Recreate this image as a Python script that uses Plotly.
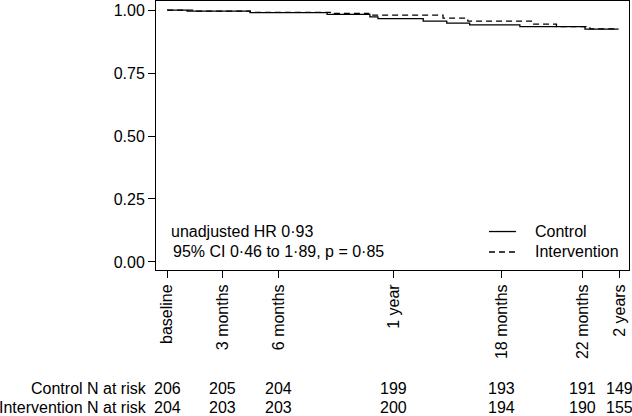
import plotly.graph_objects as go

# Kaplan-Meier step data (days since baseline, survival probability)
control_days = [0, 32, 134, 258, 327, 340, 413, 451, 488, 569, 674, 728]
control_surv = [1.000, 0.996, 0.990, 0.983, 0.973, 0.966, 0.956, 0.948, 0.941, 0.934, 0.924, 0.924]

interv_days = [0, 45, 134, 270, 325, 445, 485, 590, 628, 682, 728]
interv_surv = [1.000, 0.996, 0.991, 0.987, 0.980, 0.968, 0.956, 0.944, 0.934, 0.925, 0.925]

tick_days = [0, 90, 180, 365, 540, 670, 730]
tick_labels = ["baseline", "3 months", "6 months", "1 year", "18 months", "22 months", "2 years"]

y_ticks = [0.0, 0.25, 0.5, 0.75, 1.0]
y_tick_labels = ["0.00", "0.25", "0.50", "0.75", "1.00"]

control_at_risk = [206, 205, 204, 199, 193, 191, 149]
interv_at_risk = [204, 203, 203, 200, 194, 190, 155]

series_names = ["Control", "Intervention"]
series_dash = ["solid", "6px,4px"]

FONT = "Liberation Sans, Arial, sans-serif"
FS = 16
TXT = dict(size=FS, color="black", family=FONT)

fig = go.Figure()
fig.add_trace(go.Scatter(x=control_days, y=control_surv, mode="lines", line_shape="hv",
                         name=series_names[0], line=dict(color="black", width=1.3, dash=series_dash[0])))
fig.add_trace(go.Scatter(x=interv_days, y=interv_surv, mode="lines", line_shape="hv",
                         name=series_names[1], line=dict(color="black", width=1.3, dash=series_dash[1])))

annotations = [
    dict(text="unadjusted HR 0·93", x=0.028, y=0.143, xref="paper", yref="paper",
         xanchor="left", yanchor="middle", showarrow=False, font=TXT),
    dict(text="95% CI 0·46 to 1·89, p = 0·85", x=0.032, y=0.067, xref="paper", yref="paper",
         xanchor="left", yanchor="middle", showarrow=False, font=TXT),
    dict(text="Control N at risk", x=-0.014, y=-0.442, xref="paper", yref="paper",
         xanchor="right", yanchor="middle", showarrow=False, font=TXT),
    dict(text="Intervention N at risk", x=-0.014, y=-0.513, xref="paper", yref="paper",
         xanchor="right", yanchor="middle", showarrow=False, font=TXT),
]
for d, n in zip(tick_days, control_at_risk):
    annotations.append(dict(text=str(n), x=d, y=-0.442, xref="x", yref="paper", xanchor="center",
                            yanchor="middle", showarrow=False, font=TXT))
for d, n in zip(tick_days, interv_at_risk):
    annotations.append(dict(text=str(n), x=d, y=-0.513, xref="x", yref="paper", xanchor="center",
                            yanchor="middle", showarrow=False, font=TXT))

# manual legend (sample lines + labels) inside the plot area, bottom right
shapes = []
legend_rows_y = [0.143, 0.067]
for name, dash, ly in zip(series_names, series_dash, legend_rows_y):
    shapes.append(dict(type="line", xref="paper", yref="paper", x0=0.704, x1=0.761, y0=ly, y1=ly,
                       line=dict(color="black", width=1.3, dash=dash)))
    annotations.append(dict(text=name, x=0.797, y=ly, xref="paper", yref="paper",
                            xanchor="left", yanchor="middle", showarrow=False, font=TXT))

fig.update_layout(
    width=632, height=416,
    margin=dict(l=156, r=3, t=1, b=146),
    paper_bgcolor="white", plot_bgcolor="white",
    font=dict(family=FONT, size=FS, color="black"),
    showlegend=False,
    annotations=annotations,
    shapes=shapes,
)
fig.update_xaxes(range=[-18, 745], tickvals=tick_days, ticktext=tick_labels, tickangle=-90,
                 ticks="outside", ticklen=7, tickcolor="black", showgrid=False, zeroline=False,
                 showline=True, linecolor="black", linewidth=1, mirror=True,
                 tickfont=TXT)
fig.update_yaxes(range=[-0.032, 1.036], tickvals=y_ticks, ticktext=y_tick_labels,
                 ticks="outside", ticklen=7, tickcolor="black", showgrid=False, zeroline=False,
                 showline=True, linecolor="black", linewidth=1, mirror=True,
                 tickfont=TXT)

fig.write_html("out.html", config={"displayModeBar": False},
               post_script="document.body.style.margin='0px';")
